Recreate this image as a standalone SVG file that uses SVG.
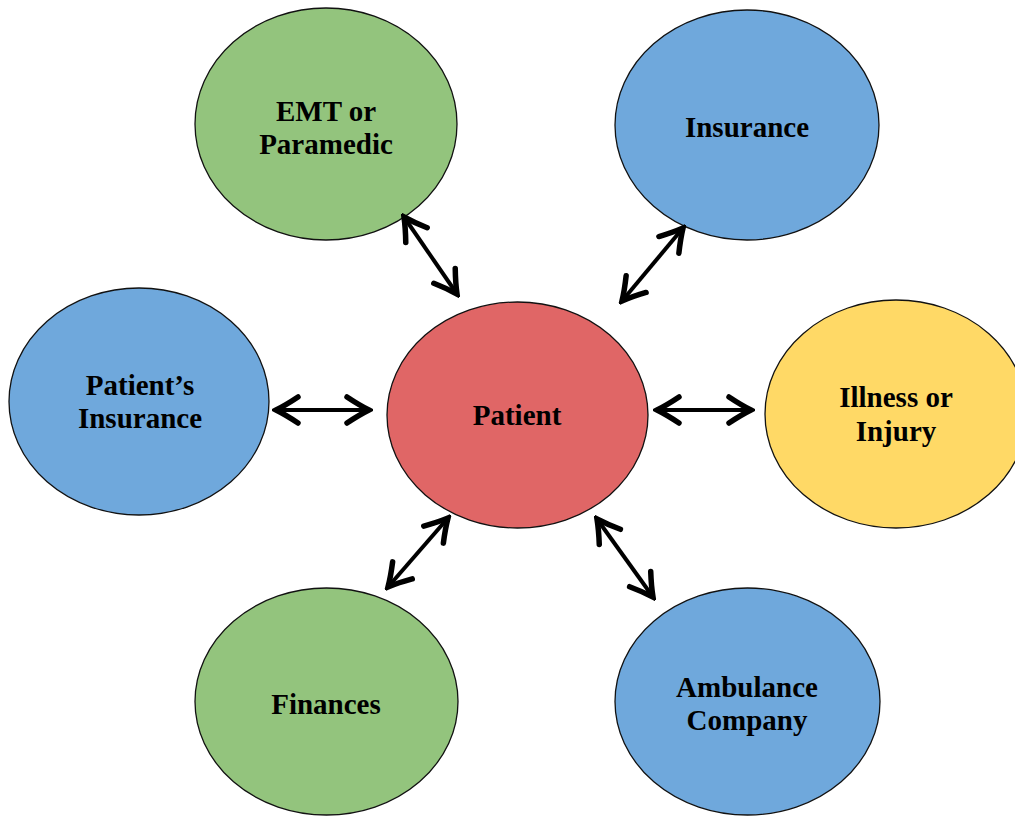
<svg xmlns="http://www.w3.org/2000/svg" width="1015" height="817" viewBox="0 0 1015 817">
<style>
.n{stroke:#111;stroke-width:1.3}
.g{fill:#93c47d}.b{fill:#6fa8dc}.r{fill:#e06666}.y{fill:#ffd966}
text{font-family:"Liberation Serif","Times New Roman",serif;font-weight:bold;font-size:29px;fill:#000;text-anchor:middle}
.c line{stroke:#000;stroke-width:4;marker-start:url(#h);marker-end:url(#h)}
</style>
<defs>
<marker id="h" markerUnits="userSpaceOnUse" viewBox="-28 -18 32 36" markerWidth="32" markerHeight="36" refX="0" refY="0" orient="auto-start-reverse">
<path d="M-22,-13 Q-10,-5 0,0 Q-10,5 -22,13" fill="none" stroke="#000" stroke-width="5.5" stroke-linejoin="miter" stroke-linecap="round"/>
</marker>
</defs>
<rect width="1015" height="817" fill="#fff"/>
<g id="emt"><ellipse class="n g" cx="326" cy="124" rx="131" ry="116"/><text x="326" y="121">EMT or</text><text x="326" y="154">Paramedic</text></g>
<g id="insurance"><ellipse class="n b" cx="747" cy="125" rx="132" ry="115"/><text x="747" y="137">Insurance</text></g>
<g id="patients-insurance"><ellipse class="n b" cx="139" cy="401.5" rx="130" ry="113.5"/><text x="140" y="395">Patient’s</text><text x="140" y="428">Insurance</text></g>
<g id="patient"><ellipse class="n r" cx="517.5" cy="415" rx="130.5" ry="113"/><text x="517" y="425">Patient</text></g>
<g id="illness"><ellipse class="n y" cx="896" cy="414" rx="131" ry="114"/><text x="896" y="407">Illness or</text><text x="896" y="441">Injury</text></g>
<g id="finances"><ellipse class="n g" cx="326.5" cy="701.5" rx="131.5" ry="113.5"/><text x="326" y="714">Finances</text></g>
<g id="ambulance"><ellipse class="n b" cx="747.5" cy="701.5" rx="132.5" ry="113.5"/><text x="747" y="697">Ambulance</text><text x="747" y="730">Company</text></g>
<g id="connectors" class="c">
<line x1="404" y1="217" x2="457" y2="294"/>
<line x1="683" y1="228" x2="622" y2="301"/>
<line x1="276" y1="410" x2="369" y2="410"/>
<line x1="657" y1="410" x2="751" y2="410"/>
<line x1="448" y1="518" x2="388" y2="587"/>
<line x1="597" y1="519" x2="653" y2="597"/>
</g>
</svg>
